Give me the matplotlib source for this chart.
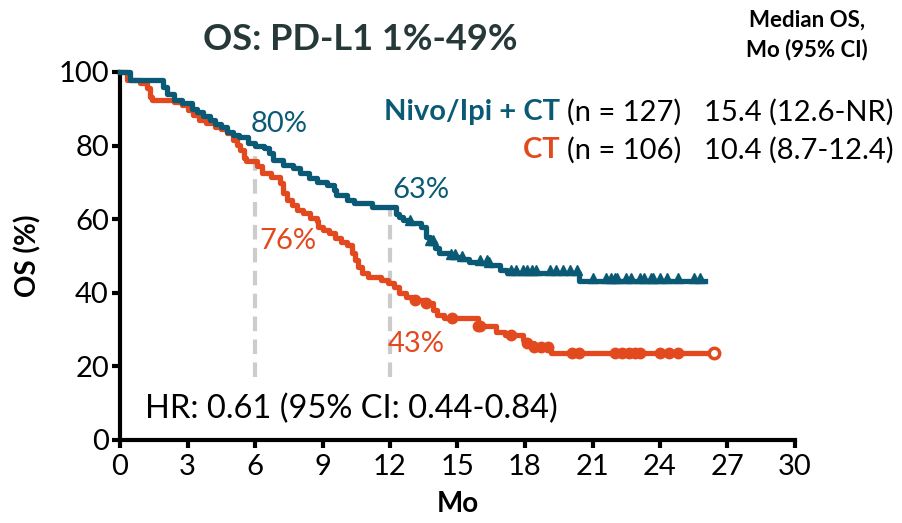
import matplotlib
matplotlib.use('Agg')
import matplotlib.pyplot as plt
import numpy as np

plt.rcParams['font.family'] = ['Lato', 'DejaVu Sans']

TEAL = '#0a5a75'
ORANGE = '#e2491f'

# Nivo/Ipi + CT, step times (months) and survival (%)
nivo_t = [0, 0.45, 1.9, 2.1, 2.4, 2.75, 3.2, 3.4, 3.7, 4.0, 4.2, 4.5, 4.75, 5.0, 5.3,
          5.7, 6.0, 6.4, 6.6, 6.8, 7.25, 7.7, 8.0, 8.4, 8.75, 9.2, 9.5, 9.6, 10.1,
          10.4, 11.2, 12.25, 12.4, 12.6, 12.9, 13.4, 13.6, 13.8, 14.0, 14.2, 14.7,
          15.1, 15.5, 16.0, 16.4, 16.9, 17.2, 20.4, 26.0]
nivo_s = [100, 97.8, 96, 94, 92.4, 91.5, 90, 89, 88, 87, 86, 85, 83.7, 83, 82.3,
          80.7, 80, 79.3, 78, 76, 74.7, 73.9, 72.5, 71.2, 70, 69.3, 68, 66.6, 65.2,
          64.4, 63.3, 61.5, 60.6, 59.8, 59, 57.9, 55.2, 53.5, 52.2, 50.8, 49.7,
          49.3, 48.4, 48, 47.6, 46.2, 45.4, 43.1, 43.1]
nivo_cens = [12.9, 13.8, 13.9, 14.7, 14.9, 15.2, 16.0, 16.3, 16.4, 17.4, 17.6, 17.9,
             18.1, 18.3, 18.5, 19.1, 19.4, 19.7, 20.0, 20.3, 21.0, 21.6, 21.8, 22.0,
             22.1, 22.5, 22.7, 23.1, 23.3, 23.6, 23.7, 24.0, 24.3, 24.8, 25.5, 25.8]

# CT
ct_t = [0, 0.3, 0.9, 1.2, 1.33, 1.4, 2.4, 2.75, 3.0, 3.25, 3.5, 3.8, 4.2, 4.5, 4.75,
        5.0, 5.2, 5.35, 5.5, 5.6, 6.1, 6.3, 6.7, 7.1, 7.25, 7.4, 7.65, 7.85, 8.15,
        8.45, 8.75, 8.8, 9.0, 9.3, 9.55, 9.8, 10.1, 10.3, 10.45, 10.6, 10.75, 11.0,
        11.6, 11.9, 12.2, 12.4, 12.7, 13.0, 13.6, 13.9, 14.1, 14.4, 15.9, 16.7,
        17.1, 17.9, 18.1, 18.4, 19.15, 26.4]
ct_s = [100, 97.8, 97, 95.6, 93.2, 92.4, 91.8, 91, 89.7, 88.3, 87, 86.1, 85, 84.5, 83.4,
        81.5, 80.2, 78.8, 76.5, 75.8, 74.5, 72.5, 71.5, 69.8, 67.1, 65.2, 63.9, 62.5, 61.7,
        60.3, 59.5, 57.9, 57, 56.3, 54.9, 53.8, 53, 50.8, 48.9, 47, 45.4, 44.3,
        43.5, 42.7, 41.6, 40, 38.9, 38, 37.2, 35.3, 34, 33.2, 31, 29.3,
        28.5, 27.2, 26.4, 25.3, 23.6, 23.6]
ct_cens = [13.1, 13.6, 14.75, 15.9, 16.0, 17.4, 18.1, 18.4, 18.7, 19.0, 20.1, 20.4,
           22.0, 22.3, 22.6, 22.9, 23.1, 24.0, 24.4, 24.8]
ct_last = 26.4

xticks = [0, 3, 6, 9, 12, 15, 18, 21, 24, 27, 30]
yticks = [0, 20, 40, 60, 80, 100]


def surv_at(times, surv, x):
    idx = np.searchsorted(times, x, side='right') - 1
    return np.array(surv)[idx]


fig = plt.figure(figsize=(9.03, 5.23), dpi=100)
ax = fig.add_axes([120 / 903, 83 / 523, 675 / 903, 368 / 523])

# landmark lines
ax.plot([6, 6], [17, 80], color='#cccccc', lw=3, dashes=(3.5, 2), zorder=1)
ax.plot([12, 12], [17, 63], color='#cccccc', lw=3, dashes=(3.5, 2), zorder=1)

ax.step(ct_t, ct_s, where='post', color=ORANGE, lw=3.8, zorder=2, clip_on=False)
ax.plot(ct_cens, surv_at(ct_t, ct_s, ct_cens), 'o', color=ORANGE, ms=7.5, zorder=2)
ax.plot([ct_last], [ct_s[-1]], 'o', color=ORANGE, mfc='white', mew=2.5, ms=7.5, zorder=3)

ax.step(nivo_t, nivo_s, where='post', color=TEAL, lw=3.8, zorder=3, clip_on=False)
ax.plot(nivo_cens, surv_at(nivo_t, nivo_s, nivo_cens) + 0.8, '^', color=TEAL, ms=7.5, zorder=3)

ax.set_xlim(0, 30)
ax.set_ylim(0, 100)
ax.set_xticks(xticks)
ax.set_yticks(yticks)
for s in ['top', 'right']:
    ax.spines[s].set_visible(False)
for s in ['left', 'bottom']:
    ax.spines[s].set_linewidth(3)
ax.tick_params(width=3, length=6, labelsize=21, pad=2)
ax.tick_params(axis='x', pad=4)
ax.set_ylabel('OS (%)', fontsize=20, fontweight='bold', labelpad=12)
ax.set_xlabel('Mo', fontsize=20, fontweight='bold', labelpad=8)

ax.text(5.8, 86, '80%', color=TEAL, fontsize=21, va='center')
ax.text(6.2, 54, '76%', color=ORANGE, fontsize=21, va='center')
ax.text(12.1, 68, '63%', color=TEAL, fontsize=21, va='center')
ax.text(11.9, 26, '43%', color=ORANGE, fontsize=21, va='center')
ax.text(1.1, 8.5, 'HR: 0.61 (95% CI: 0.44-0.84)', fontsize=23.5, va='center')

fig.text(360 / 903, 1 - 40 / 523, 'OS: PD-L1 1%-49%', fontsize=26, fontweight='bold',
         color='#263838', ha='center', va='center')
fig.text(807 / 903, 1 - 20 / 523, 'Median OS,', fontsize=16, fontweight='bold',
         ha='center', va='center')
fig.text(807 / 903, 1 - 50 / 523, 'Mo (95% CI)', fontsize=16, fontweight='bold',
         ha='center', va='center')

rows = [('Nivo/Ipi + CT', TEAL, '(n = 127)', '15.4 (12.6-NR)', 112),
        ('CT', ORANGE, '(n = 106)', '10.4 (8.7-12.4)', 150)]
for name, col, n, med, ypx in rows:
    t_n = fig.text(681 / 903, 1 - ypx / 523, n, fontsize=21, ha='right', va='center')
    ax.annotate(name + ' ', xy=(0, 0), xycoords=t_n, ha='right', va='bottom',
                fontsize=21, fontweight='bold', color=col)
    fig.text(894 / 903, 1 - ypx / 523, med, fontsize=21, ha='right', va='center')

fig.savefig('out.png', dpi=100)
